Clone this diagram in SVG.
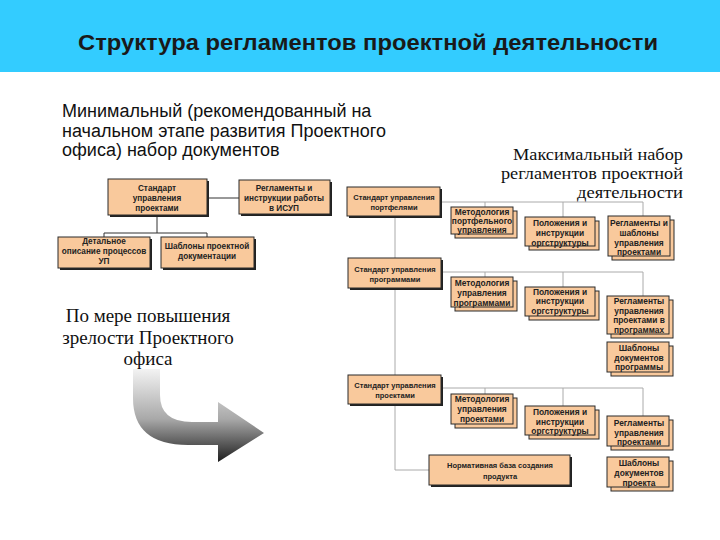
<svg xmlns="http://www.w3.org/2000/svg" width="720" height="540" viewBox="0 0 720 540">
<style>
.bx{fill:#F9C99C;stroke:#2a2a2a;stroke-width:1}
.sh{fill:#222}
.bt{font-family:"Liberation Sans",Arial,sans-serif;font-size:7.5px;font-weight:bold;fill:#222;text-anchor:middle}
.bs{font-size:8.4px}
.bl{font-size:8.2px}
.lc{stroke:#333;stroke-width:1;fill:none}
.rc{stroke:#aaa;stroke-width:1;fill:none}
.sans{font-family:"Liberation Sans",Arial,sans-serif;font-size:18px;fill:#111}
.ser{font-family:"Liberation Serif","Times New Roman",serif;fill:#111}
</style>
<defs>
<linearGradient id="ag" x1="0" y1="367" x2="0" y2="462" gradientUnits="userSpaceOnUse">
<stop offset="0" stop-color="#f6f6f6"/>
<stop offset="0.55" stop-color="#a8a8a8"/>
<stop offset="1" stop-color="#1e1e1e"/>
</linearGradient>
</defs>
<rect x="0" y="0" width="720" height="540" fill="#fff"/>
<rect x="0" y="0" width="720" height="72" fill="#33CCFF"/>
<text x="368" y="50" text-anchor="middle" textLength="580" lengthAdjust="spacingAndGlyphs" style="font-family:'Liberation Sans',Arial,sans-serif;font-size:22px;font-weight:bold;fill:#1a1a1a">Структура регламентов проектной деятельности</text>

<g id="minText" class="sans">
<text x="62" y="117">Минимальный (рекомендованный на</text>
<text x="62" y="137">начальном этапе развития Проектного</text>
<text x="62" y="156">офиса) набор документов</text>
</g>
<g id="maxText" class="ser" text-anchor="end" font-size="16">
<text x="683" y="160" textLength="170" lengthAdjust="spacingAndGlyphs">Максимальный набор</text>
<text x="683" y="179" textLength="182" lengthAdjust="spacingAndGlyphs">регламентов проектной</text>
<text x="683" y="198" textLength="106" lengthAdjust="spacingAndGlyphs">деятельности</text>
</g>
<g id="growText" class="ser" text-anchor="middle" font-size="19">
<text x="148" y="322">По мере повышения</text>
<text x="148" y="344">зрелости Проектного</text>
<text x="148" y="365">офиса</text>
</g>
<g id="arrow">
<path d="M133,369 L160,369 L160,395 Q160,422 192,422 L218,422 L218,402 L264,433 L218,462 L218,445 L188,445 Q133,445 133,398 Z" fill="url(#ag)"/>
</g>

<g id="connectors">
<path class="lc" d="M208,198 H239"/>
<path class="lc" d="M157,216 V233 M104,233 H207 M104,233 V237 M207,233 V237"/>
<path class="rc" d="M395,216 V258 M395,288 V375 M395,404 V470 H429"/>
<path class="rc" d="M441,202 H643 M485,202 V207 M563,202 V217 M643,202 V216"/>
<path class="rc" d="M441,272 H643 M485,272 V277 M563,272 V287 M643,272 V296"/>
<path class="rc" d="M441,388 H643 M485,388 V394 M563,388 V406 M643,388 V416"/>
</g>

<g id="l1"><rect class="sh" x="110" y="181" width="99" height="36"/><rect class="bx" x="108" y="179" width="99" height="36"/>
<text class="bt bl" x="157" y="191">Стандарт</text><text class="bt bl" x="157" y="201">управления</text><text class="bt bl" x="157" y="211">проектами</text></g>
<g id="l2"><rect class="sh" x="241" y="182" width="91" height="34"/><rect class="bx" x="239" y="180" width="91" height="34"/>
<text class="bt bl" x="284" y="191">Регламенты и</text><text class="bt bl" x="284" y="201">инструкции работы</text><text class="bt bl" x="284" y="211">в ИСУП</text></g>
<g id="l3"><rect class="sh" x="60" y="239" width="92" height="31"/><rect class="bx" x="58" y="237" width="92" height="31"/>
<text class="bt bl" x="104" y="244">Детальное</text><text class="bt bl" x="104" y="254">описание процессов</text><text class="bt bl" x="104" y="264">УП</text></g>
<g id="l4"><rect class="sh" x="163" y="239" width="93" height="31"/><rect class="bx" x="161" y="237" width="93" height="31"/>
<text class="bt bl" x="207" y="249">Шаблоны проектной</text><text class="bt bl" x="207" y="259">документации</text></g>

<g id="r1"><rect class="sh" x="349" y="189" width="93" height="29"/><rect class="bx" x="347" y="187" width="93" height="29"/>
<text class="bt" x="394" y="200">Стандарт управления</text><text class="bt" x="394" y="210">портфелями</text></g>
<g id="r2"><rect class="bx" x="455" y="211" width="62" height="27"/><rect class="bx" x="451" y="207" width="62" height="27"/>
<text class="bt bs" x="482" y="215">Методология</text><text class="bt bs" x="482" y="224">портфельного</text><text class="bt bs" x="482" y="233">управления</text></g>
<g id="r3"><rect class="bx" x="529" y="221" width="70" height="29"/><rect class="bx" x="525" y="217" width="70" height="29"/>
<text class="bt bs" x="560" y="226">Положения и</text><text class="bt bs" x="560" y="236">инструкции</text><text class="bt bs" x="560" y="246">оргструктуры</text></g>
<g id="r4"><rect class="bx" x="612" y="220" width="62" height="40"/><rect class="bx" x="608" y="216" width="62" height="40"/>
<text class="bt bs" x="639" y="226">Регламенты и</text><text class="bt bs" x="639" y="236">шаблоны</text><text class="bt bs" x="639" y="246">управления</text><text class="bt bs" x="639" y="255">проектами</text></g>

<g id="p1"><rect class="sh" x="350" y="260" width="93" height="30"/><rect class="bx" x="348" y="258" width="93" height="30"/>
<text class="bt" x="395" y="272">Стандарт управления</text><text class="bt" x="395" y="282">программами</text></g>
<g id="p2"><rect class="bx" x="455" y="281" width="62" height="30"/><rect class="bx" x="451" y="277" width="62" height="30"/>
<text class="bt bs" x="482" y="286">Методология</text><text class="bt bs" x="482" y="296">управления</text><text class="bt bs" x="482" y="306">программами</text></g>
<g id="p3"><rect class="bx" x="529" y="291" width="70" height="29"/><rect class="bx" x="525" y="287" width="70" height="29"/>
<text class="bt bs" x="560" y="295">Положения и</text><text class="bt bs" x="560" y="304">инструкции</text><text class="bt bs" x="560" y="314">оргструктуры</text></g>
<g id="p4"><rect class="bx" x="611" y="300" width="62" height="38"/><rect class="bx" x="607" y="296" width="62" height="38"/>
<text class="bt bs" x="639" y="304">Регламенты</text><text class="bt bs" x="639" y="314">управления</text><text class="bt bs" x="639" y="323">проектами  в</text><text class="bt bs" x="639" y="333">программах</text></g>
<g id="p5"><rect class="bx" x="611" y="346" width="62" height="30"/><rect class="bx" x="607" y="342" width="62" height="30"/>
<text class="bt bs" x="639" y="351">Шаблоны</text><text class="bt bs" x="639" y="361">документов</text><text class="bt bs" x="639" y="370">программы</text></g>

<g id="q1"><rect class="sh" x="350" y="377" width="93" height="29"/><rect class="bx" x="348" y="375" width="93" height="29"/>
<text class="bt" x="395" y="388">Стандарт управления</text><text class="bt" x="395" y="398">проектами</text></g>
<g id="q2"><rect class="bx" x="455" y="398" width="62" height="30"/><rect class="bx" x="451" y="394" width="62" height="30"/>
<text class="bt bs" x="482" y="402">Методология</text><text class="bt bs" x="482" y="412">управления</text><text class="bt bs" x="482" y="422">проектами</text></g>
<g id="q3"><rect class="bx" x="529" y="410" width="70" height="29"/><rect class="bx" x="525" y="406" width="70" height="29"/>
<text class="bt bs" x="560" y="415">Положения и</text><text class="bt bs" x="560" y="425">инструкции</text><text class="bt bs" x="560" y="434">оргструктуры</text></g>
<g id="q4"><rect class="bx" x="611" y="420" width="62" height="30"/><rect class="bx" x="607" y="416" width="62" height="30"/>
<text class="bt bs" x="639" y="426">Регламенты</text><text class="bt bs" x="639" y="436">управления</text><text class="bt bs" x="639" y="445">проектами</text></g>
<g id="q5"><rect class="bx" x="611" y="461" width="62" height="30"/><rect class="bx" x="607" y="457" width="62" height="30"/>
<text class="bt bs" x="639" y="466">Шаблоны</text><text class="bt bs" x="639" y="476">документов</text><text class="bt bs" x="639" y="486">проекта</text></g>
<g id="q6"><rect class="sh" x="431" y="457" width="141" height="30"/><rect class="bx" x="429" y="455" width="141" height="30"/>
<text class="bt" x="500" y="468">Нормативная база создания</text><text class="bt" x="500" y="479">продукта</text></g>
</svg>
